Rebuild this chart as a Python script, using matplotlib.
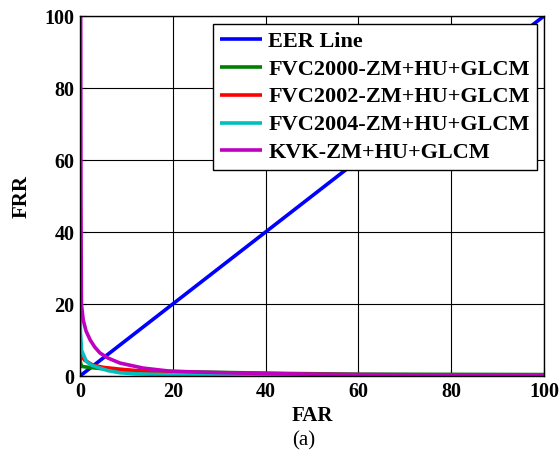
import matplotlib
matplotlib.use("Agg")
import matplotlib.pyplot as plt

# Data
eer_far = [0, 20, 40, 60, 80, 100]
eer_frr = [0, 20, 40, 60, 80, 100]

fvc2000_far = [0, 0.05, 0.3, 0.7, 2, 5, 8, 12, 20, 30, 45, 60, 80, 100]
fvc2000_frr = [7, 4, 2.7, 2.6, 2.4, 2.0, 1.7, 1.4, 1.2, 1.0, 0.7, 0.5, 0.45, 0.4]

fvc2002_far = [0, 0.3, 1, 2.8, 5, 8.6, 14, 20, 30, 40, 60, 80, 100]
fvc2002_frr = [8, 5.5, 4.4, 3.0, 2.4, 1.9, 1.3, 1.0, 0.7, 0.5, 0.35, 0.3, 0.3]

fvc2004_far = [0, 0.1, 0.36, 1.4, 2.5, 4.3, 6, 8.6, 12, 20, 40, 60, 80, 100]
fvc2004_frr = [20, 12, 7, 4, 3, 2.2, 1.5, 0.9, 0.6, 0.35, 0.2, 0.1, 0.1, 0.1]

kvk_far = [0.15, 0.2, 0.3, 0.7, 1.3, 2.2, 3.2, 4.3, 6, 8.6, 13.6, 19, 25, 35, 50, 60, 80, 100]
kvk_frr = [100, 50, 20, 15.5, 12.5, 10, 8, 6.4, 5, 3.6, 2.2, 1.4, 1.1, 0.8, 0.5, 0.4, 0.3, 0.25]

labels = ["EER Line", "FVC2000-ZM+HU+GLCM", "FVC2002-ZM+HU+GLCM",
          "FVC2004-ZM+HU+GLCM", "KVK-ZM+HU+GLCM"]
colors = ["#0000ff", "#007f00", "#ff0000", "#00bfbf", "#bf00bf"]
xticks = [0, 20, 40, 60, 80, 100]
yticks = [0, 20, 40, 60, 80, 100]

plt.rcParams['font.family'] = ['Liberation Serif', 'DejaVu Serif']

fig = plt.figure(figsize=(5.6, 4.58), dpi=100)
ax = fig.add_axes([80/560, 1-376/458, (544-80)/560, (376-16)/458])

series = [(eer_far, eer_frr), (fvc2000_far, fvc2000_frr), (fvc2002_far, fvc2002_frr),
          (fvc2004_far, fvc2004_frr), (kvk_far, kvk_frr)]
for (x, y), lab, c in zip(series, labels, colors):
    ax.plot(x, y, color=c, lw=2.6, label=lab, solid_capstyle='butt')

ax.set_xlim(0, 100)
ax.set_ylim(0, 100)
ax.set_xticks(xticks)
ax.set_yticks(yticks)
ax.grid(True, color='black', lw=0.8, ls='-')
ax.set_axisbelow(True)
ax.tick_params(direction='in', length=4, width=0.8, labelsize=14.5, pad=4)
for t in ax.get_xticklabels() + ax.get_yticklabels():
    t.set_fontweight('bold')
for s in ax.spines.values():
    s.set_color('black')
    s.set_linewidth(1.0)

ax.set_xlabel("FAR", fontsize=15, fontweight='bold', labelpad=3)
ax.set_ylabel("FRR", fontsize=15, fontweight='bold', labelpad=9)

leg = ax.legend(loc='upper right', bbox_to_anchor=(1 - 7/464, 1 - 8/360),
                prop={'weight': 'bold', 'size': 16}, frameon=True, fancybox=False,
                edgecolor='black', framealpha=1, handlelength=1.9, handletextpad=0.27,
                labelspacing=0.33, borderpad=0.32, borderaxespad=0)
leg.get_frame().set_linewidth(1.0)

fig.text(304/560, 1-441/458, "(a)", ha='center', va='center', fontsize=15)

fig.savefig("out.png", dpi=100)
